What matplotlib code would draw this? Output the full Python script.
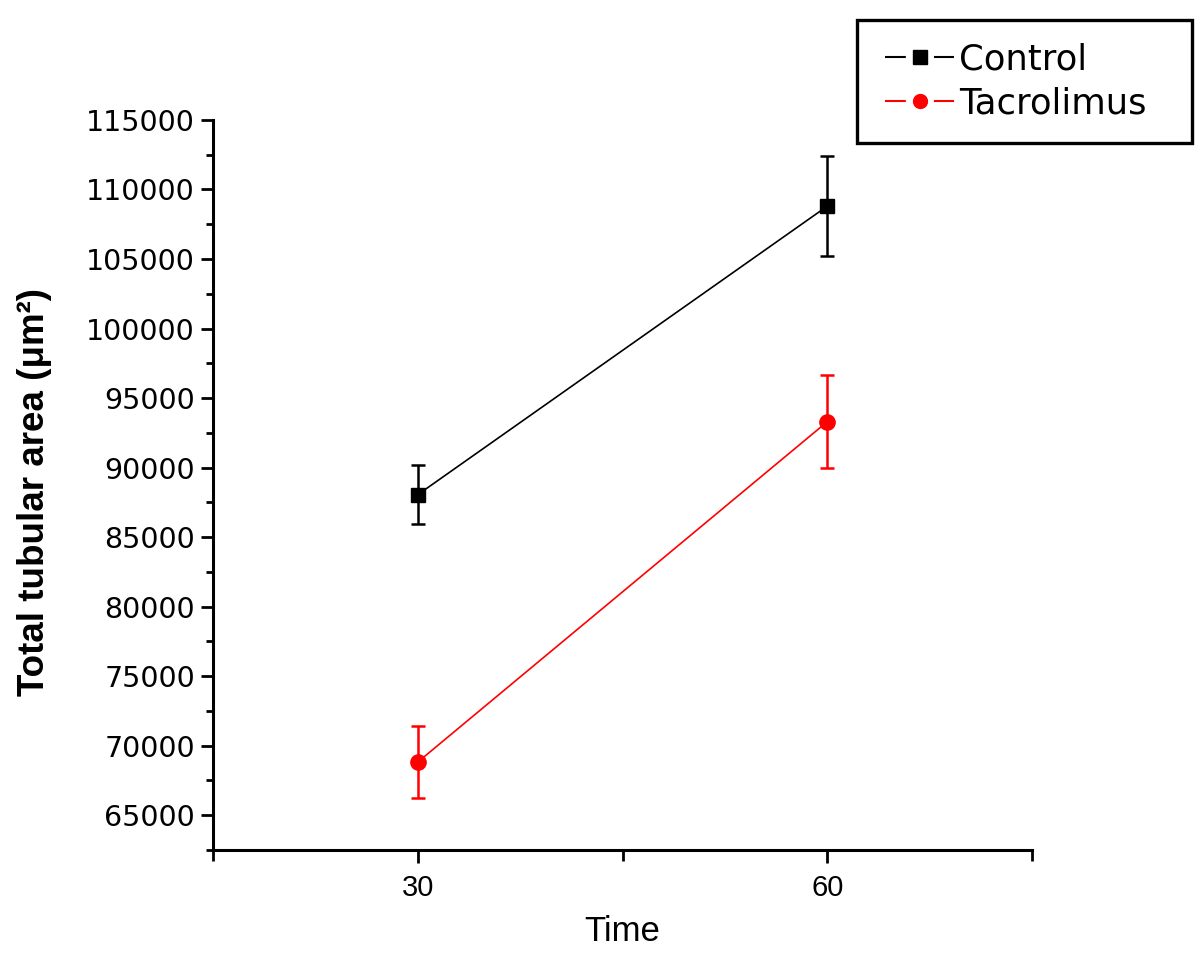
import matplotlib.pyplot as plt
from matplotlib.lines import Line2D
from matplotlib.patches import Rectangle
from matplotlib.ticker import MultipleLocator, FixedLocator

# data
time_points = [30, 60]
control_mean = [88050, 108800]
control_err = [2130, 3600]
tacro_mean = [68820, 93300]
tacro_err = [2600, 3350]
series_names = ["Control", "Tacrolimus"]

narrow = ['Liberation Sans Narrow', 'Liberation Sans', 'DejaVu Sans']

fig = plt.figure(figsize=(12, 9.59), dpi=100)
ax = fig.add_axes([0.1775, 0.1137, 0.6825, 0.7612])

ax.errorbar(time_points, control_mean, yerr=control_err, color='black',
            marker='s', markersize=10, linewidth=1.2, elinewidth=1.8,
            capsize=5, capthick=1.8)
ax.errorbar(time_points, tacro_mean, yerr=tacro_err, color='#ff0000',
            marker='o', markersize=11, linewidth=1.2, elinewidth=1.8,
            capsize=5, capthick=1.8)

ax.set_xlim(15, 75)
ax.set_ylim(62500, 115000)

ax.xaxis.set_major_locator(FixedLocator([30, 60]))
ax.xaxis.set_minor_locator(FixedLocator([15, 45, 75]))
ax.yaxis.set_major_locator(MultipleLocator(5000))
ax.yaxis.set_minor_locator(MultipleLocator(2500))

for s in ['top', 'right']:
    ax.spines[s].set_visible(False)
for s in ['left', 'bottom']:
    ax.spines[s].set_linewidth(2.2)

ax.tick_params(axis='both', which='major', width=2, length=9)
ax.tick_params(axis='both', which='minor', width=2, length=5)
ax.tick_params(axis='x', which='minor', length=8)
ax.tick_params(axis='y', labelsize=20.5, pad=4)
ax.tick_params(axis='x', labelsize=21, pad=8)
for lab in ax.get_yticklabels():
    lab.set_family('DejaVu Sans')
for lab in ax.get_xticklabels():
    lab.set_family(narrow)

ax.set_xlabel("Time", fontsize=25, family=narrow, labelpad=10)
fig.text(0.029, 0.487, "Total tubular area (\u03bcm\u00b2)", rotation=90,
         fontsize=26.5, fontweight='bold', family=['Liberation Sans', 'DejaVu Sans'],
         ha='center', va='center')

# legend handles: short dash, marker, short dash
handles = [
    Line2D([], [], color='black', marker='s', markersize=9.5, linewidth=1.5,
           dashes=(10, 13.5)),
    Line2D([], [], color='#ff0000', marker='o', markersize=10, linewidth=1.5,
           dashes=(10, 13.5)),
]
leg = fig.legend(handles, series_names, loc='upper left',
                 bbox_to_anchor=(885 / 1200, 1 - 42 / 959),
                 fontsize=25.5, frameon=False, handlelength=1.95,
                 handletextpad=0.15, borderpad=0, labelspacing=0.3,
                 borderaxespad=0)
for t in leg.get_texts():
    t.set_family('DejaVu Sans')

# legend frame
fig.patches.append(Rectangle((857 / 1200, 1 - 143 / 959), 335 / 1200, 123 / 959,
                             transform=fig.transFigure, fill=False,
                             edgecolor='black', linewidth=2.4))

fig.savefig("out.png", dpi=100, facecolor='white')
